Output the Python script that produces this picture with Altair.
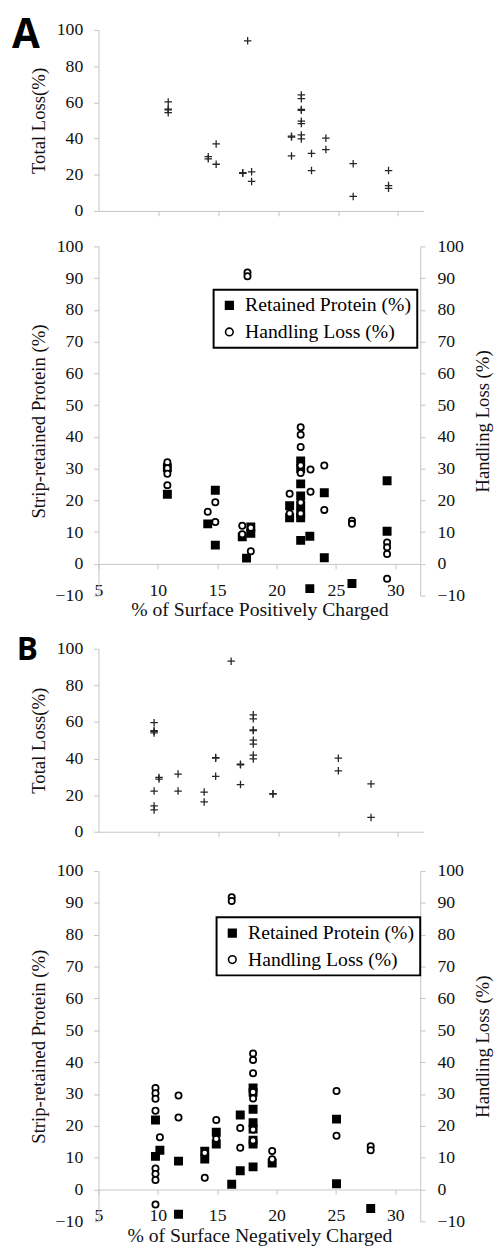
import altair as alt
import pandas as pd

# ---------------- Panel A : % of surface positively charged ----------------
A_TOTAL_X = [10.82, 14.16, 14.82, 17.04, 17.45, 17.78, 21.11, 21.93, 22.78, 23.98, 26.26, 29.21]
A_TOTAL_Y = [[60.2, 56.3, 55.8, 54.3], [30.0, 28.8], [37.0, 25.8], [20.8, 21.1], [94.0],
             [21.6, 16.3], [40.8, 41.3, 30.4],
             [64.1, 62.0, 56.1, 55.6, 49.6, 48.3, 42.0, 39.8],
             [31.8, 22.3], [40.2, 33.9], [26.1, 8.0], [22.3, 14.0, 12.5]]

A_RET_X = [10.8, 14.2, 14.84, 17.11, 17.47, 17.83, 21.1, 22.03, 22.8, 24.02, 26.35, 29.31]
A_RET_Y = [[21.9, 30.3], [12.6], [23.2, 5.9], [8.5], [1.8], [11.6, 9.6], [18.3, 14.5],
           [32.4, 30.0, 25.2, 21.4, 18.5, 16.0, 14.5, 7.4],
           [8.7, -7.8], [22.4, 1.95], [-6.2], [26.2, 10.3]]

A_HAND_X = [10.8, 14.2, 14.84, 17.11, 17.55, 17.83, 21.1, 22.03, 22.86, 24.02, 26.35, 29.31]
A_HAND_Y = [[32.0, 30.1, 28.4, 24.8], [16.4], [19.4, 13.2], [12.0, 9.3], [91.8, 90.6],
            [11.4, 4.0], [22.1, 15.9],
            [43.0, 40.7, 36.8, 31.0, 28.6, 19.3, 15.9],
            [29.7, 22.7], [31.0, 17.0], [13.6, 12.6], [6.7, 5.2, 3.1, -4.7]]

# ---------------- Panel B : % of surface negatively charged ----------------
B_TOTAL_X = [9.64, 10.05, 11.64, 13.82, 14.78, 16.07, 16.85, 17.92, 19.56, 25.02, 27.75]
B_TOTAL_Y = [[59.6, 55.3, 54.8, 54.0, 22.2, 14.1, 11.9], [29.7, 28.8], [31.5, 22.2],
             [21.7, 16.3], [40.5, 40.2, 30.3], [93.2], [36.9, 36.6, 25.8],
             [63.9, 61.7, 55.6, 55.3, 50.0, 47.9, 41.9, 39.8],
             [20.8, 20.6], [40.2, 33.3], [26.1, 7.8]]

B_RET_X = [9.8, 10.17, 11.74, 13.95, 14.92, 16.22, 16.94, 18.02, 19.63, 25.05, 27.93]
B_RET_Y = [[21.8, 10.4], [12.3], [8.9, -7.8], [12.0, 9.6], [18.0, 14.3], [1.65],
           [23.4, 5.9], [31.9, 30.5, 25.2, 21.0, 19.0, 15.5, 14.3, 7.1],
           [8.3], [22.1, 1.8], [-6.0]]

B_HAND_X = [9.8, 10.17, 11.74, 13.95, 14.92, 16.22, 16.94, 18.02, 19.63, 25.05, 27.93]
B_HAND_Y = [[31.9, 30.2, 28.5, 24.7, 6.6, 4.9, 3.0, -4.7], [16.4], [29.5, 22.6],
            [11.5, 3.7], [21.8, 15.9], [91.8, 90.6], [19.3, 13.1],
            [42.7, 40.7, 36.5, 30.6, 28.6, 18.8, 15.4],
            [12.1, 9.5], [30.9, 16.9], [13.6, 12.3]]

X_TICKS = [5, 10, 15, 20, 25, 30]
X_TICKS_TOP = [10, 15, 20, 25, 30]
TOP_Y_TICKS = [0, 20, 40, 60, 80, 100]
BOT_Y_TICKS = [-10, 0, 10, 20, 30, 40, 50, 60, 70, 80, 90, 100]
SERIES = ["Retained Protein (%)", "Handling Loss (%)"]

SERIF = "Liberation Serif, Times New Roman, Times, DejaVu Serif, serif"
GRAY = "#c4c4c4"
X_DOMAIN = [5, 32.1]
W_TOP, W_BOT = 330, 327
CROSS = "M-1,0L1,0M0,-1L0,1"


def flatten(xs, ys, series="total"):
    rows = []
    for x, group in zip(xs, ys):
        for y in group:
            rows.append({"x": x, "y": y, "s": series})
    return pd.DataFrame(rows)


def top_panel(xs, ys, letter, lx, ly, lsize, height):
    df = flatten(xs, ys)
    pts = alt.Chart(df).mark_point(
        shape=CROSS, size=58, color="#262626", strokeWidth=1.3, filled=False, opacity=1
    ).encode(
        x=alt.X("x:Q", scale=alt.Scale(domain=X_DOMAIN, nice=False, zero=False),
                axis=alt.Axis(values=X_TICKS_TOP, labels=False, title=None)),
        y=alt.Y("y:Q", scale=alt.Scale(domain=[0, 100], nice=False, zero=False),
                axis=alt.Axis(values=TOP_Y_TICKS, title="Total Loss(%)",
                              labelPadding=11, titlePadding=8)),
    )
    lab = alt.Chart(pd.DataFrame({"t": [letter]})).mark_text(
        font="Open Sans", fontWeight="bold", fontSize=lsize, align="left",
        baseline="top", color="black"
    ).encode(x=alt.value(lx), y=alt.value(ly), text="t:N")
    return alt.layer(pts, lab).properties(width=W_TOP, height=height)


def bottom_panel(rx, ry, hx, hy, xtitle, height, legx, legy):
    df_r = flatten(rx, ry, SERIES[0])
    df_h = flatten(hx, hy, SERIES[1])
    xenc = alt.X("x:Q", scale=alt.Scale(domain=X_DOMAIN, nice=False, zero=False),
                 axis=alt.Axis(values=X_TICKS, title=xtitle, offset=-height * 10 / 110,
                               labelPadding=13, titlePadding=1, titleFontSize=20))
    yscale = alt.Scale(domain=[-10, 100], nice=False, zero=False)
    legend = alt.Legend(title=None, orient="none", legendX=legx, legendY=legy,
                        strokeColor="black", padding=6, rowPadding=7,
                        labelFont=SERIF, labelFontSize=20, labelColor="black",
                        labelLimit=400, labelOffset=6, symbolSize=60,
                        symbolStrokeWidth=1.6)
    shape = alt.Shape("s:N", scale=alt.Scale(domain=SERIES, range=["square", "circle"]), legend=legend)
    fill = alt.Fill("s:N", scale=alt.Scale(domain=SERIES, range=["black", "white"]), legend=legend)
    stroke = alt.Stroke("s:N", scale=alt.Scale(domain=SERIES, range=["black", "black"]), legend=legend)
    squares = alt.Chart(df_r).mark_point(
        filled=True, strokeWidth=1.6, size=56, opacity=1
    ).encode(
        x=xenc,
        y=alt.Y("y:Q", scale=yscale,
                axis=alt.Axis(values=BOT_Y_TICKS, title="Strip-retained Protein (%)",
                              labelPadding=11, titlePadding=7)),
        shape=shape, fill=fill, stroke=stroke,
    )
    circles = alt.Chart(df_h).mark_point(
        filled=True, strokeWidth=1.8, size=40, opacity=1
    ).encode(
        x=xenc,
        y=alt.Y("y:Q", scale=yscale,
                axis=alt.Axis(values=BOT_Y_TICKS, title="Handling Loss (%)", orient="right",
                              titleAngle=270, titleBaseline="top",
                              labelPadding=12, titlePadding=9)),
        shape=shape, fill=fill, stroke=stroke,
    )
    return alt.layer(squares, circles).resolve_scale(y="independent").properties(
        width=W_BOT, height=height)


def spacer(h):
    return alt.Chart(pd.DataFrame({"a": [0]})).mark_point(opacity=0).encode(
        x=alt.value(0), y=alt.value(0)).properties(width=W_BOT, height=h)


topA = top_panel(A_TOTAL_X, A_TOTAL_Y, "A", -88, -14, 41, 184)
botA = bottom_panel(A_RET_X, A_RET_Y, A_HAND_X, A_HAND_Y,
                    "% of Surface Positively Charged", 355, 117, 44)
topB = top_panel(B_TOTAL_X, B_TOTAL_Y, "B", -83, -14, 32, 186)
botB = bottom_panel(B_RET_X, B_RET_Y, B_HAND_X, B_HAND_Y,
                    "% of Surface Negatively Charged", 356, 120, 47)

chart = alt.vconcat(
    topA, spacer(2), botA, spacer(20), topB, spacer(6), botB,
    spacing=17, bounds="flush"
).resolve_scale(
    shape="independent", fill="independent", stroke="independent"
).properties(
    autosize=alt.AutoSizeParams(type="none"),
    padding={"left": 92, "top": 12, "right": 402, "bottom": 1238}
).configure_view(
    strokeWidth=0
).configure_axis(
    labelFont=SERIF, labelFontSize=18, labelColor="#111111",
    titleFont=SERIF, titleFontSize=19, titleFontWeight="normal", titleColor="#111111",
    domainColor=GRAY, tickColor=GRAY, tickSize=5, grid=False,
    labelFlush=False, labelOverlap=False
).configure_legend(
    strokeWidth=2
)

chart.save("out.html", embed_options={"renderer": "svg", "actions": False})
